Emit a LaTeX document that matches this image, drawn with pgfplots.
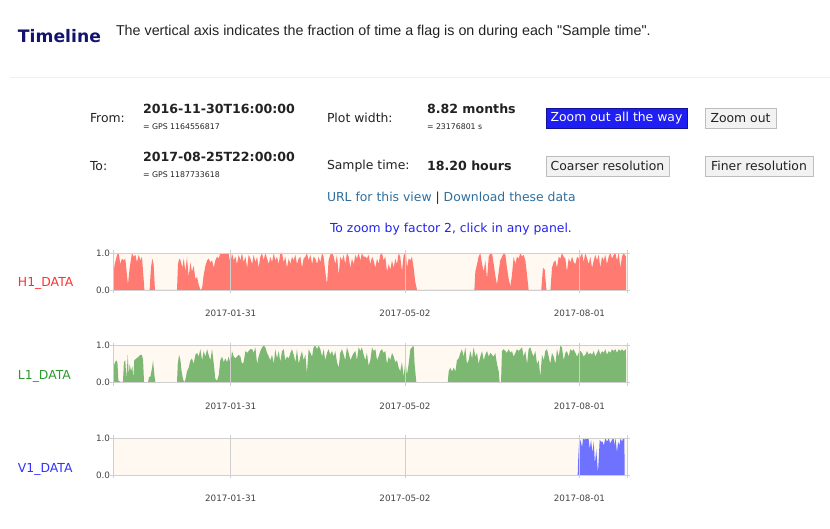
\documentclass[border=0pt]{standalone}
\usepackage{fontspec}
\setmainfont{DejaVu Sans}
\newfontfamily\lib{Liberation Sans}
\usepackage{pgfplots}
\pgfplotsset{compat=1.18}

\definecolor{hone}{HTML}{FF7B72}
\definecolor{lone}{HTML}{7DB872}
\definecolor{vone}{HTML}{6E72FF}
\definecolor{cream}{HTML}{FFF9F2}
\definecolor{navy}{HTML}{14146E}
\definecolor{linkc}{HTML}{2F6E9C}
\definecolor{zoomc}{HTML}{2424EE}
\definecolor{btnblue}{HTML}{1E1EF5}
\definecolor{btngray}{HTML}{F2F2F2}
\definecolor{btnline}{HTML}{BDBDBD}
\definecolor{labred}{HTML}{FF3030}
\definecolor{labgreen}{HTML}{2E9A2E}
\definecolor{labblue}{HTML}{3232FF}
\definecolor{gridc}{HTML}{CFCFCF}
\definecolor{txt}{HTML}{222222}

% x = days since 2016-11-30T16:00, y = fraction of time flag is on
\pgfplotstableread[row sep=\\]{
x y\\
0 0\\ 0.7 0.65\\ 2.1 0.95\\ 3.0 1.0\\ 3.8 0.7\\ 4.7 0.85\\ 5.6 0.8\\ 6.4 0.85\\ 7.3 0.4\\ 7.8 0.15\\
8.7 0.6\\ 9.9 1.0\\ 10.8 0.9\\ 11.7 0.95\\ 12.5 0.75\\ 13.4 0.95\\ 14.3 0.8\\ 15.1 0.9\\ 15.7 0.5\\ 16.4 0\\
19.1 0\\ 19.8 0.6\\ 20.5 0.85\\ 21.2 0.7\\ 21.9 0\\ 33.4 0\\ 33.9 0.7\\ 34.6 0.85\\ 35.3 0.8\\ 36.2 0.6\\
36.9 0.85\\ 37.8 0.5\\ 38.6 0.9\\ 39.5 0.35\\ 40.4 0.75\\ 41.2 0.5\\ 42.1 0.65\\ 43.0 0.3\\ 43.9 0.35\\ 44.7 0.15\\
45.6 0\\ 46.5 0.05\\ 47.3 0.4\\ 48.2 0.65\\ 49.1 0.8\\ 49.9 0.85\\ 50.8 0.75\\ 51.7 0.8\\ 52.6 0.6\\ 53.4 0.8\\
54.3 0.9\\ 55.2 0.85\\ 56.0 1.0\\ 57.8 0.98\\ 59.5 1.0\\ 60.4 0.97\\ 61.3 0.7\\ 62.1 1.0\\ 63.0 0.8\\ 63.9 0.9\\
64.7 0.7\\ 65.6 0.95\\ 66.5 0.8\\ 67.3 1.0\\ 68.2 0.75\\ 69.1 0.9\\ 70.0 0.6\\ 70.8 0.95\\ 71.7 0.85\\ 72.6 0.7\\
73.4 0.95\\ 74.3 0.75\\ 75.2 0.9\\ 76.0 0.6\\ 76.9 0.9\\ 77.8 1.0\\ 78.6 0.8\\ 79.5 1.0\\ 80.4 0.85\\ 81.3 0.7\\
82.1 0.9\\ 83.0 0.75\\ 83.9 1.0\\ 84.7 0.8\\ 85.6 0.9\\ 86.5 0.7\\ 87.3 1.0\\ 88.2 1.0\\ 89.1 0.75\\ 89.9 0.9\\
90.8 0.6\\ 91.7 0.85\\ 92.6 0.7\\ 93.4 0.9\\ 94.3 0.8\\ 95.2 0.95\\ 96.0 0.7\\ 96.9 0.85\\ 97.8 0.9\\ 98.6 0.6\\
99.5 0.85\\ 100.4 0.9\\ 101.2 1.0\\ 102.1 0.8\\ 103.0 0.95\\ 103.9 0.7\\ 104.7 0.9\\ 105.6 0.85\\ 106.5 0.7\\ 107.3 0.9\\
108.2 0.75\\ 109.1 1.0\\ 109.9 0.9\\ 110.8 0.5\\ 111.7 0.15\\ 112.5 0.8\\ 113.4 0.95\\ 114.3 1.0\\ 115.2 0.9\\ 116.0 0.7\\
116.9 0.95\\ 117.8 0.4\\ 118.6 0.9\\ 119.5 0.8\\ 120.4 0.95\\ 121.2 0.7\\ 122.1 1.0\\ 123.0 0.9\\ 123.9 0.6\\ 124.7 0.85\\
125.6 0.7\\ 126.5 0.95\\ 127.3 0.85\\ 128.2 1.0\\ 129.1 0.8\\ 129.9 1.0\\ 130.8 0.9\\ 131.7 0.9\\ 132.5 0.85\\ 133.4 0.95\\
134.3 0.7\\ 135.2 0.9\\ 136.0 0.8\\ 136.9 0.6\\ 137.8 0.85\\ 138.6 0.7\\ 139.5 0.95\\ 140.4 1.0\\ 141.2 0.8\\ 142.1 0.9\\
143.0 0.5\\ 143.9 0.7\\ 144.7 0.55\\ 145.6 0.8\\ 146.5 0.6\\ 147.3 0.85\\ 148.2 0.7\\ 149.1 1.0\\ 149.9 0.9\\ 150.8 0.5\\
151.7 0.95\\ 152.9 1.0\\ 153.4 0.6\\ 154.3 0.85\\ 155.2 0.8\\ 156.0 0.9\\ 156.9 0.6\\ 157.8 0.2\\ 158.7 0\\ 188.6 0\\
189.1 0.5\\ 190.0 0.7\\ 190.8 0.9\\ 191.7 1.0\\ 192.6 0.7\\ 193.5 0.5\\ 194.3 0.8\\ 195.2 0.3\\ 196.1 0.9\\ 196.9 1.0\\
197.8 1.0\\ 198.7 0.7\\ 199.5 0.4\\ 200.4 0.15\\ 201.3 0.5\\ 202.1 0.8\\ 203.0 0.9\\ 203.9 1.0\\ 204.8 0.95\\ 205.6 0.6\\
206.5 0.3\\ 207.4 0.1\\ 208.2 0.4\\ 209.1 0.9\\ 210.0 0.7\\ 210.8 0.9\\ 211.7 0.85\\ 212.6 1.0\\ 213.5 0.9\\ 214.3 0.95\\
215.2 0.8\\ 216.1 0.4\\ 216.9 0\\ 223.5 0\\ 224.4 0.6\\ 225.3 0.55\\ 226.2 0\\ 228.3 0\\ 229.1 0.6\\ 230.0 0.75\\
230.9 0.8\\ 231.7 0.6\\ 232.6 0.9\\ 233.5 0.85\\ 234.3 1.0\\ 235.2 0.9\\ 236.1 0.85\\ 236.9 0.5\\ 237.8 0.85\\ 238.7 0.75\\
239.6 0.9\\ 240.4 0.75\\ 241.3 0.7\\ 242.2 0.9\\ 243.0 0.85\\ 243.9 0.9\\ 244.8 1.0\\ 245.6 0.75\\ 246.5 1.0\\ 247.4 0.85\\
248.3 0.7\\ 249.1 0.9\\ 250.0 0.6\\ 250.9 0.8\\ 251.7 0.95\\ 252.6 0.8\\ 253.5 0.95\\ 254.3 0.6\\ 255.2 0.9\\ 256.1 0.8\\
256.9 0.95\\ 257.8 0.7\\ 258.7 0.9\\ 259.6 1.0\\ 260.4 0.85\\ 261.3 0.95\\ 262.2 1.0\\ 263.0 0.8\\ 263.9 1.0\\ 264.8 0.6\\
265.6 0.9\\ 266.5 1.0\\ 267.7 0.9\\ 267.8 0\\
}\hone

\pgfplotstableread[row sep=\\]{
x y\\
0 0.25\\ 0.7 0.5\\ 1.6 0.6\\ 2.3 0.55\\ 2.8 0.05\\ 3.8 0.02\\ 5.2 0.02\\ 5.7 0.55\\ 6.4 0.6\\ 7.0 0.1\\
7.7 0.75\\ 8.2 0.2\\ 8.7 0.5\\ 9.4 0.3\\ 10.1 0.45\\ 10.6 0.1\\ 11.1 0.6\\ 12.2 0.65\\ 13.4 0.7\\ 14.3 0.75\\
15.1 0.75\\ 15.7 0.6\\ 16.2 0\\ 18.3 0\\ 18.8 0.15\\ 19.5 0.15\\ 20.4 0.4\\ 20.9 0.6\\ 21.6 0.2\\ 22.1 0\\
33.4 0\\ 33.8 0.5\\ 34.5 0.75\\ 35.2 0.6\\ 35.8 0.3\\ 36.5 0.1\\ 37.2 0\\ 37.9 0.1\\ 38.6 0.3\\ 39.5 0.4\\
40.4 0.6\\ 41.2 0.65\\ 42.1 0.5\\ 43.0 0.75\\ 43.9 0.8\\ 44.7 0.7\\ 45.6 0.9\\ 46.5 0.6\\ 47.3 0.85\\ 48.2 0.7\\
49.1 0.9\\ 49.9 0.75\\ 50.8 0.6\\ 51.7 0.9\\ 52.6 0.5\\ 53.4 0.1\\ 54.3 0.05\\ 55.2 0.2\\ 56.0 0.6\\ 56.9 0.7\\
57.8 0.55\\ 58.6 0.65\\ 59.5 0.55\\ 60.4 0.7\\ 61.3 0.5\\ 62.1 0.85\\ 63.0 0.7\\ 63.9 0.65\\ 64.7 0.7\\ 65.6 0.75\\
66.5 0.7\\ 67.3 0.5\\ 68.2 0.55\\ 69.1 0.85\\ 70.0 0.8\\ 70.8 0.85\\ 71.7 0.9\\ 72.6 0.9\\ 73.4 0.8\\ 74.3 0.95\\
75.2 0.5\\ 76.0 0.7\\ 76.9 0.85\\ 77.8 0.95\\ 78.6 1.0\\ 79.5 0.95\\ 80.4 0.8\\ 81.3 0.7\\ 82.1 0.6\\ 83.0 0.75\\
83.9 0.5\\ 84.7 0.9\\ 85.6 0.65\\ 86.5 0.85\\ 87.3 0.55\\ 88.2 0.85\\ 89.1 0.9\\ 89.9 0.6\\ 90.8 0.7\\ 91.7 0.65\\
92.6 0.8\\ 93.4 0.9\\ 94.3 0.75\\ 95.2 0.55\\ 96.0 0.9\\ 96.9 0.5\\ 97.8 0.7\\ 98.6 0.85\\ 99.5 0.6\\ 100.4 0.75\\
101.2 0.25\\ 102.1 0.9\\ 103.0 0.8\\ 103.9 0.7\\ 104.7 0.95\\ 105.6 1.0\\ 106.5 0.9\\ 107.3 1.0\\ 108.2 0.9\\ 109.1 0.7\\
109.9 0.9\\ 110.8 0.6\\ 111.7 0.8\\ 112.5 0.9\\ 113.4 0.75\\ 114.3 0.85\\ 115.2 0.7\\ 116.0 0.85\\ 116.9 0.55\\ 117.8 0.4\\
118.6 0.8\\ 119.5 0.9\\ 120.4 0.75\\ 121.2 0.6\\ 122.1 0.95\\ 123.0 0.8\\ 123.9 0.6\\ 124.7 0.7\\ 125.6 0.8\\ 126.5 0.85\\
127.3 0.6\\ 128.2 0.95\\ 129.1 0.85\\ 129.9 0.95\\ 130.8 0.75\\ 131.7 0.6\\ 132.5 0.8\\ 133.4 0.45\\ 134.3 0.6\\ 135.2 0.95\\
136.0 0.85\\ 136.9 0.9\\ 137.8 0.6\\ 138.6 0.7\\ 139.5 0.85\\ 140.4 0.9\\ 141.2 0.8\\ 142.1 0.85\\ 143.0 0.5\\ 143.9 0.7\\
144.7 0.6\\ 145.6 0.8\\ 146.5 0.7\\ 147.3 0.55\\ 148.2 0.6\\ 149.1 0.4\\ 149.9 0.3\\ 150.8 0.55\\ 151.7 0.15\\ 152.6 0.6\\
153.4 0.2\\ 154.3 0.5\\ 155.2 0.9\\ 156.0 0.95\\ 156.9 1.0\\ 157.4 0.5\\ 158.3 0\\ 174.7 0\\ 175.2 0.3\\ 176.0 0.4\\
176.9 0.3\\ 177.8 0.4\\ 178.7 0.3\\ 179.5 0.6\\ 180.4 0.65\\ 181.3 0.8\\ 182.1 0.9\\ 183.0 0.7\\ 183.9 0.95\\ 184.7 0.5\\
185.6 0.6\\ 186.5 0.85\\ 187.4 0.65\\ 188.2 0.95\\ 189.1 0.7\\ 190.0 0.8\\ 190.8 0.5\\ 191.7 0.7\\ 192.6 0.85\\ 193.5 0.6\\
194.3 0.75\\ 195.2 0.85\\ 196.1 0.7\\ 196.9 0.8\\ 197.8 0.75\\ 198.7 0.7\\ 199.5 0.8\\ 200.4 0.5\\ 201.3 0.3\\ 201.8 0\\
202.5 0\\ 203.0 0.85\\ 203.9 0.9\\ 204.8 0.85\\ 205.6 0.8\\ 206.5 0.9\\ 207.4 0.8\\ 208.2 0.85\\ 209.1 0.7\\ 210.0 0.8\\
210.8 0.9\\ 211.7 0.85\\ 212.6 0.9\\ 213.5 0.95\\ 214.3 0.7\\ 215.2 0.85\\ 216.1 0.5\\ 216.9 0.9\\ 217.8 0.95\\ 218.7 0.8\\
219.5 0.7\\ 220.4 0.85\\ 221.3 0.5\\ 222.2 0.6\\ 223.0 0.15\\ 223.9 0.75\\ 224.8 0.6\\ 225.6 0.85\\ 226.5 0.9\\ 227.4 0.7\\
228.2 0.5\\ 229.1 0.8\\ 230.0 0.7\\ 230.9 0.5\\ 231.7 0.9\\ 232.6 0.7\\ 233.5 1.0\\ 234.3 0.95\\ 235.2 0.6\\ 236.1 0.8\\
236.9 0.85\\ 237.8 0.7\\ 238.7 0.9\\ 239.6 0.85\\ 240.4 0.9\\ 241.3 0.8\\ 242.2 0.7\\ 243.0 0.8\\ 243.9 0.85\\ 244.8 0.8\\
245.6 0.7\\ 246.5 0.75\\ 247.4 0.85\\ 248.3 0.75\\ 249.1 0.8\\ 250.0 0.75\\ 250.9 0.85\\ 251.7 0.7\\ 252.6 0.8\\ 253.5 0.9\\
254.3 0.75\\ 255.2 0.85\\ 256.1 0.8\\ 256.9 0.9\\ 257.8 0.75\\ 258.7 0.85\\ 259.6 0.8\\ 260.4 0.9\\ 261.3 0.85\\ 262.2 0.9\\
263.0 0.8\\ 263.9 0.9\\ 264.8 0.85\\ 265.6 0.9\\ 266.5 0.85\\ 267.7 0.9\\ 267.8 0\\
}\lone

\pgfplotstableread[row sep=\\]{
x y\\
0 0\\ 242.5 0\\ 242.85 0.5\\ 243.2 0.85\\ 243.9 0.95\\ 244.8 0.75\\ 245.3 1.0\\ 246.0 0.95\\ 246.7 1.0\\ 247.4 1.0\\
248.2 1.0\\ 248.8 0.7\\ 249.5 0.95\\ 250.2 0.6\\ 250.9 0.9\\ 251.5 0.3\\ 252.2 0.7\\ 253.1 0.05\\ 254.0 0.95\\ 254.7 0.9\\
255.5 0.9\\ 256.2 0.8\\ 256.9 1.0\\ 257.8 0.9\\ 258.7 1.0\\ 259.5 0.85\\ 260.4 0.95\\ 261.3 1.0\\ 261.8 0.8\\ 262.3 1.0\\
263.0 0.6\\ 263.6 0.9\\ 264.3 0.8\\ 264.9 1.0\\ 265.6 0.9\\ 266.3 1.0\\ 266.9 1.0\\ 267.0 0\\
}\vone

\pgfplotsset{
  panel/.style={
    width=257pt, height=18.5pt, scale only axis,
    anchor=north west,
    xmin=0, xmax=268.25, ymin=0, ymax=1,
    axis background/.style={fill=cream},
    axis line style={gridc},
    axis on top,
    xtick={61.4,152.4,243.4},
    xticklabels={2017-01-31,2017-05-02,2017-08-01},
    ytick={0,1}, yticklabels={0.0,1.0},
    xmajorgrids, major grid style={gridc, line width=0.5pt},
    tick align=outside, major tick length=1.5pt,
    tick style={gridc},
    ticklabel style={font=\fontsize{4.4}{5}\selectfont, text=txt!85},
    xticklabel style={yshift=-8.5pt},
    extra x ticks={0,268.25}, extra x tick labels={},
    extra x tick style={grid=none},
  },
}

\begin{document}
\begin{tikzpicture}[x=0.5pt, y=-0.5pt, every node/.style={inner sep=0pt, outer sep=0pt}]
\path[use as bounding box] (0,0) rectangle (830,529);

% header
\node[anchor=west, text=navy, font=\fontsize{8.6}{10}\selectfont\bfseries] at (18,36) {Timeline};
\node[anchor=west, text=txt, font=\lib\fontsize{7.15}{8}\selectfont] at (116,32)
  {The vertical axis indicates the fraction of time a flag is on during each "Sample time".};
\draw[black!6, line width=0.5pt] (10,78) -- (830,78);

% controls
\begin{scope}[every node/.append style={anchor=west, text=txt, font=\fontsize{6.2}{8}\selectfont}]
\node at (90,118) {From:};
\node at (90,166) {To:};
\node at (327,118) {Plot width:};
\node at (327,166) {Sample time:};
\end{scope}
\begin{scope}[every node/.append style={anchor=west, text=txt, font=\fontsize{6.3}{8}\selectfont\bfseries}]
\node at (143,109) {2016-11-30T16:00:00};
\node at (143,157) {2017-08-25T22:00:00};
\node at (427,109) {8.82 months};
\node at (427,166) {18.20 hours};
\end{scope}
\begin{scope}[every node/.append style={anchor=west, text=txt, font=\fontsize{3.9}{4}\selectfont}]
\node at (143,127) {= GPS 1164556817};
\node at (143,175) {= GPS 1187733618};
\node at (427,127) {= 23176801 s};
\end{scope}

% buttons
\draw[fill=btnblue, draw=btnblue!60!black, line width=0.4pt] (546,108) rectangle (687,128);
\node[text=white, font=\fontsize{6.2}{8}\selectfont] at (616.5,118) {Zoom out all the way};
\draw[fill=btngray, draw=btnline, line width=0.4pt] (705,108) rectangle (776,128);
\node[text=txt, font=\fontsize{6.2}{8}\selectfont] at (740.5,118) {Zoom out};
\draw[fill=btngray, draw=btnline, line width=0.4pt] (546,156) rectangle (669,176);
\node[text=txt, font=\fontsize{6.2}{8}\selectfont] at (607.5,166) {Coarser resolution};
\draw[fill=btngray, draw=btnline, line width=0.4pt] (705,156) rectangle (813,176);
\node[text=txt, font=\fontsize{6.2}{8}\selectfont] at (759,166) {Finer resolution};

% links
\node[anchor=west, font=\fontsize{6.2}{8}\selectfont] at (327,198)
  {\textcolor{linkc}{URL for this view} \textcolor{txt}{|} \textcolor{linkc}{Download these data}};
\node[anchor=west, text=zoomc, font=\fontsize{6.2}{8}\selectfont] at (330,229)
  {To zoom by factor 2, click in any panel.};

% series labels
\node[anchor=west, text=labred, font=\fontsize{6.2}{8}\selectfont] at (18,283) {H1\_DATA};
\node[anchor=west, text=labgreen, font=\fontsize{6.2}{8}\selectfont] at (18,376) {L1\_DATA};
\node[anchor=west, text=labblue, font=\fontsize{6.2}{8}\selectfont] at (18,469) {V1\_DATA};

% panels
\begin{axis}[panel, at={(56.5pt,-126.5pt)}]
\addplot[fill=hone, draw=none] table {\hone} \closedcycle;
\end{axis}
\begin{axis}[panel, at={(56.5pt,-172.75pt)}]
\addplot[fill=lone, draw=none] table {\lone} \closedcycle;
\end{axis}
\begin{axis}[panel, at={(56.5pt,-219pt)}]
\addplot[fill=vone, draw=none] table {\vone} \closedcycle;
\end{axis}
\end{tikzpicture}
\end{document}
